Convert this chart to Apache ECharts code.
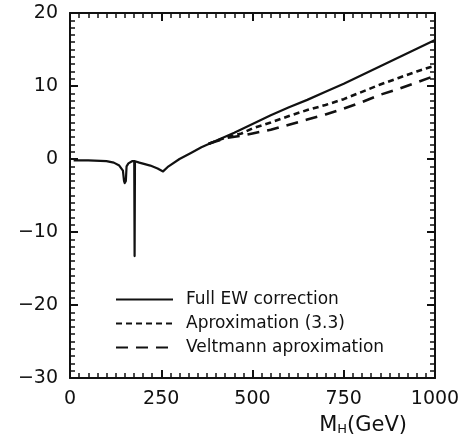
<!DOCTYPE html>
<html>
<head>
<meta charset="utf-8">
<script src="https://cdn.jsdelivr.net/npm/echarts@6/dist/echarts.min.js"></script>
<style>
  html, body { margin: 0; padding: 0; background: #ffffff; }
  #chart { width: 471px; height: 448px; }
</style>
</head>
<body>
<div id="chart"></div>
<script>
// Higgs mass (GeV) and corrections
const massFull = [10, 50, 100, 120, 135, 145, 148, 150, 153, 155, 160, 170, 176, 177, 178, 190, 220, 240, 255, 270,
  300, 330, 360, 400, 450, 500, 550, 600, 650, 700, 750, 800, 850, 900, 950, 1000];
const fullEw = [-0.2, -0.2, -0.3, -0.5, -0.9, -1.6, -3.0, -3.3, -3.0, -1.0, -0.6, -0.3, -0.3, -13.3, -0.3, -0.5, -0.9, -1.3, -1.7, -1.0,
  0.0, 0.8, 1.6, 2.5, 3.6, 4.8, 6.0, 7.1, 8.1, 9.2, 10.3, 11.5, 12.7, 13.9, 15.1, 16.3];

const massApprox = [380, 430, 470, 500, 550, 600, 650, 700, 750, 800, 850, 900, 950, 1000];
const approx33 = [2.1, 3.0, 3.5, 4.2, 5.0, 5.9, 6.7, 7.4, 8.2, 9.2, 10.2, 11.1, 12.0, 12.8];
const veltmann = [2.1, 2.9, 3.2, 3.5, 4.0, 4.7, 5.4, 6.1, 6.9, 7.8, 8.8, 9.6, 10.5, 11.4];

const seriesNames = ['Full EW correction', 'Aproximation (3.3)', 'Veltmann aproximation'];
const xTicks = [0, 1000, 250];
const yTicks = [-30, 20, 10];

const ink = '#111111';
const font = 'DejaVu Sans';

const pairs = (xs, ys) => xs.map((x, i) => [x, ys[i]]);
const minus = v => (v < 0 ? '\u2212' + (-v) : String(v));

const baseAxis = {
  axisLine: { show: true, onZero: false, lineStyle: { color: ink, width: 2 } },
  axisTick: { show: true, inside: true, length: 8, lineStyle: { color: ink, width: 2 } },
  minorTick: { show: true, splitNumber: 10, length: 5, lineStyle: { color: ink, width: 1.5 } },
  splitLine: { show: false },
  minorSplitLine: { show: false }
};

const chart = echarts.init(document.getElementById('chart'));

chart.setOption({
  animation: false,
  backgroundColor: '#ffffff',
  grid: { left: 70, right: 36, top: 13, bottom: 70 },
  legend: {
    orient: 'vertical',
    left: 115,
    top: 291,
    padding: 0,
    itemGap: 7,
    itemWidth: 57,
    itemHeight: 14,
    data: seriesNames,
    itemStyle: { opacity: 0 },
    textStyle: { color: ink, fontFamily: font, fontSize: 17, padding: [0, 0, 0, 8] }
  },
  xAxis: [
    Object.assign({}, baseAxis, {
      type: 'value',
      position: 'bottom',
      min: xTicks[0], max: xTicks[1], interval: xTicks[2],
      axisLabel: { color: ink, fontFamily: font, fontSize: 19, margin: 12, formatter: v => String(v) },
      name: 'M{sub|H}(GeV)',
      nameLocation: 'end',
      nameGap: -28,
      nameTextStyle: {
        color: ink, fontFamily: font, fontSize: 21, align: 'right', verticalAlign: 'top',
        padding: [37, 0, 0, 0],
        rich: { sub: { fontFamily: font, fontSize: 13, verticalAlign: 'bottom', padding: [8, 0, 0, 0], color: ink } }
      }
    }),
    Object.assign({}, baseAxis, {
      type: 'value',
      position: 'top',
      min: xTicks[0], max: xTicks[1], interval: xTicks[2],
      axisLabel: { show: false }
    })
  ],
  yAxis: [
    Object.assign({}, baseAxis, {
      type: 'value',
      position: 'left',
      min: yTicks[0], max: yTicks[1], interval: yTicks[2],
      axisLabel: { color: ink, fontFamily: font, fontSize: 19, margin: 12, formatter: minus }
    }),
    Object.assign({}, baseAxis, {
      type: 'value',
      position: 'right',
      min: yTicks[0], max: yTicks[1], interval: yTicks[2],
      axisLabel: { show: false }
    })
  ],
  series: [
    {
      name: seriesNames[0],
      type: 'line',
      data: pairs(massFull, fullEw),
      symbol: 'none',
      lineStyle: { color: ink, width: 2.2, join: 'round' },
      itemStyle: { color: ink }
    },
    {
      name: seriesNames[1],
      type: 'line',
      data: pairs(massApprox, approx33),
      symbol: 'none',
      lineStyle: { color: ink, width: 2.6, type: [6, 4] },
      itemStyle: { color: ink }
    },
    {
      name: seriesNames[2],
      type: 'line',
      data: pairs(massApprox, veltmann),
      symbol: 'none',
      lineStyle: { color: ink, width: 2.6, type: [12, 8] },
      itemStyle: { color: ink }
    }
  ]
});
</script>
</body>
</html>
